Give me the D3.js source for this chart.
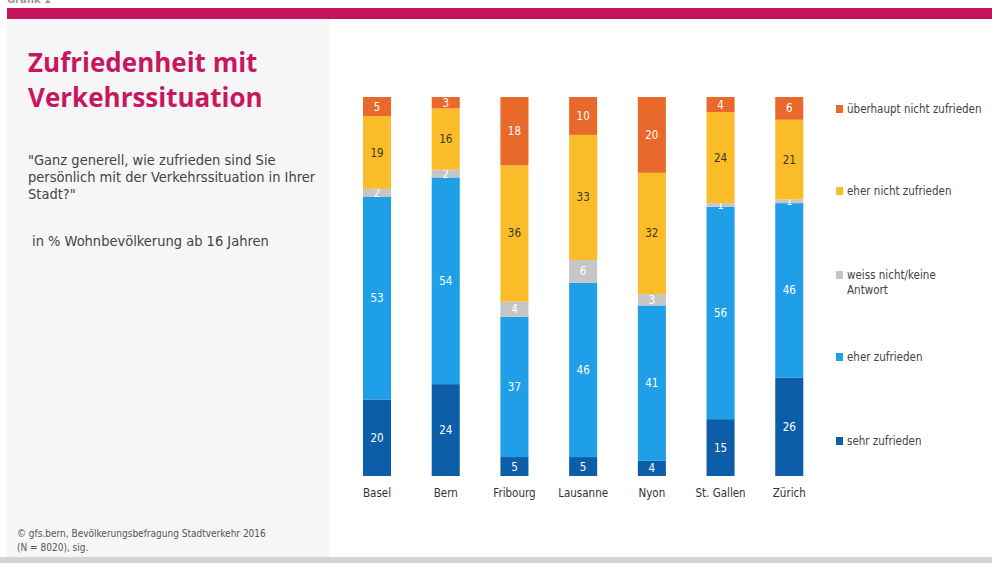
<!DOCTYPE html>
<html>
<head>
<meta charset="utf-8">
<script src="https://cdn.jsdelivr.net/npm/d3@7"></script>
<style>
  body { margin: 0; background: #fff; }
  svg { display: block; }
</style>
</head>
<body>
<svg id="chart" width="992" height="563"></svg>
<script>
// data (bottom to top)
const cities = ["Basel", "Bern", "Fribourg", "Lausanne", "Nyon", "St. Gallen", "Zürich"]
const keys = ["sehr", "eher", "weiss", "eherNicht", "ueberhaupt"]
const sehrZufrieden = [20, 24, 5, 5, 4, 15, 26]
const eherZufrieden = [53, 54, 37, 46, 41, 56, 46]
const weissNicht = [2, 2, 4, 6, 3, 1, 1]
const eherNichtZufrieden = [19, 16, 36, 33, 32, 24, 21]
const ueberhauptNicht = [5, 3, 18, 10, 20, 4, 6]
const legendLabels = ["überhaupt nicht zufrieden", "eher nicht zufrieden", "weiss nicht/keine Antwort", "eher zufrieden", "sehr zufrieden"]

const colors = {
    sehr: "#0d5ea8",
    eher: "#1e9fe8",
    weiss: "#c6c6c6",
    eherNicht: "#fbbc2a",
    ueberhaupt: "#e8692a"
}
const textColors = { sehr: "#fff", eher: "#fff", weiss: "#fff", eherNicht: "#3a3a1a", ueberhaupt: "#fff" }

const rows = cities.map((c, i) => ({
    city: c,
    sehr: sehrZufrieden[i],
    eher: eherZufrieden[i],
    weiss: weissNicht[i],
    eherNicht: eherNichtZufrieden[i],
    ueberhaupt: ueberhauptNicht[i]
}))

const svg = d3.select("#chart")
const narrow = "'DejaVu Sans Condensed', 'Liberation Sans Narrow', sans-serif"

// background pieces
svg.append("rect").attr("x", 7).attr("y", 19).attr("width", 322).attr("height", 538).attr("fill", "#f6f6f6")
svg.append("rect").attr("x", 7).attr("y", 8).attr("width", 985).attr("height", 11).attr("fill", "#c5135c")
svg.append("rect").attr("x", 0).attr("y", 557).attr("width", 992).attr("height", 6).attr("fill", "#d4d4d4")

// header text cut off at the top edge
svg.append("text").attr("x", 7).attr("y", 3).attr("fill", "#999")
    .style("font-family", narrow).style("font-weight", "bold").style("font-size", "11px")
    .text("Grafik 1")

// title + texts
const title = svg.append("text").attr("x", 28).attr("fill", "#c8175f")
    .style("font-family", "'Open Sans', sans-serif").style("font-weight", "bold").style("font-size", "26px")
title.append("tspan").attr("x", 28).attr("y", 72).text("Zufriedenheit mit")
title.append("tspan").attr("x", 28).attr("y", 107).text("Verkehrssituation")

const q = svg.append("text").attr("fill", "#444")
    .style("font-family", narrow).style("font-size", "14.5px")
q.append("tspan").attr("x", 28).attr("y", 165).text("\"Ganz generell, wie zufrieden sind Sie")
q.append("tspan").attr("x", 28).attr("y", 182).text("persönlich mit der Verkehrssituation in Ihrer")
q.append("tspan").attr("x", 28).attr("y", 199).text("Stadt?\"")

svg.append("text").attr("x", 32).attr("y", 246).attr("fill", "#444")
    .style("font-family", narrow).style("font-size", "14.5px")
    .text("in % Wohnbevölkerung ab 16 Jahren")

const foot = svg.append("text").attr("fill", "#555")
    .style("font-family", narrow).style("font-size", "10px")
foot.append("tspan").attr("x", 17).attr("y", 537).text("©  gfs.bern, Bevölkerungsbefragung Stadtverkehr 2016")
foot.append("tspan").attr("x", 17).attr("y", 551).text("(N = 8020), sig.")

// scales
const x = d3.scaleBand().domain(cities).range([342.4, 823.9]).paddingInner(0.592).paddingOuter(0.3)
const y = d3.scaleLinear().domain([0, 1]).range([476, 97])

const series = d3.stack().keys(keys).offset(d3.stackOffsetExpand)(rows)

const g = svg.append("g")
const layers = g.selectAll("g.layer").data(series).enter().append("g")
    .attr("class", "layer")
    .attr("fill", d => colors[d.key])

layers.selectAll("rect").data(d => d).enter().append("rect")
    .attr("x", d => x(d.data.city))
    .attr("width", x.bandwidth())
    .attr("y", d => y(d[1]))
    .attr("height", d => y(d[0]) - y(d[1]))

layers.each(function (s) {
    d3.select(this).selectAll("text.val").data(s).enter().append("text")
        .attr("class", "val")
        .attr("x", d => x(d.data.city) + x.bandwidth() / 2)
        .attr("y", d => (y(d[0]) + y(d[1])) / 2 + 4)
        .attr("text-anchor", "middle")
        .attr("fill", textColors[s.key])
        .style("font-family", narrow).style("font-size", "11.5px")
        .text(d => d.data[s.key])
})

// axis labels
const xAxis = svg.append("g").attr("transform", "translate(0,476)")
    .call(d3.axisBottom(x).tickSize(0).tickPadding(13))
xAxis.select(".domain").remove()
xAxis.selectAll("text").attr("fill", "#333")
    .style("font-family", narrow).style("font-size", "11.5px")

// legend
const legendY = [111, 193, 277, 359, 443]
const legendKeys = keys.slice().reverse()
const leg = svg.append("g").selectAll("g").data(legendKeys).enter().append("g")
    .attr("transform", (d, i) => "translate(836," + legendY[i] + ")")
leg.append("rect").attr("x", 0).attr("y", -6).attr("width", 7).attr("height", 8)
    .attr("fill", d => colors[d])
leg.each(function (d, i) {
    const t = d3.select(this).append("text").attr("x", 11).attr("y", 2).attr("fill", "#444")
        .style("font-family", narrow).style("font-size", "11.5px")
    if (d === "weiss") {
        t.append("tspan").attr("x", 11).attr("y", 2).text("weiss nicht/keine")
        t.append("tspan").attr("x", 11).attr("y", 17).text("Antwort")
    } else {
        t.text(legendLabels[i])
    }
})
</script>
</body>
</html>
